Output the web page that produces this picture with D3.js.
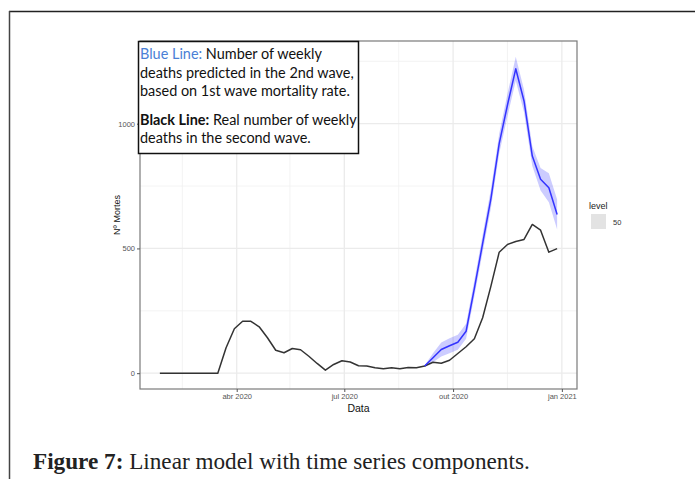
<!DOCTYPE html>
<html><head><meta charset="utf-8">
<script src="https://cdn.jsdelivr.net/npm/d3@7"></script>
<style>body{margin:0;background:#fff}svg{display:block}</style>
</head><body>
<script>
const dates = ["2020-01-27","2020-02-03","2020-02-10","2020-02-17","2020-02-24","2020-03-02","2020-03-09","2020-03-16","2020-03-23","2020-03-30","2020-04-06","2020-04-13","2020-04-20","2020-04-27","2020-05-04","2020-05-11","2020-05-18","2020-05-25","2020-06-01","2020-06-08","2020-06-15","2020-06-22","2020-06-29","2020-07-06","2020-07-13","2020-07-20","2020-07-27","2020-08-03","2020-08-10","2020-08-17","2020-08-24","2020-08-31","2020-09-07","2020-09-14","2020-09-21","2020-09-28","2020-10-05","2020-10-12","2020-10-19","2020-10-26","2020-11-02","2020-11-09","2020-11-16","2020-11-23","2020-11-30","2020-12-07","2020-12-14","2020-12-21","2020-12-28"];
const realDeaths = [0,0,0,0,0,0,0,0,102,178,208,208,186,142,92,82,99,94,68,39,12,35,50,45,30,29,22,18,22,18,23,22,29,44,40,52,79,106,138,222,349,485,516,528,536,596,573,485,499];
const predDates = ["2020-09-07","2020-09-14","2020-09-21","2020-09-28","2020-10-05","2020-10-12","2020-10-19","2020-10-26","2020-11-02","2020-11-09","2020-11-16","2020-11-23","2020-11-30","2020-12-07","2020-12-14","2020-12-21","2020-12-28"];
const predicted = [29,62,95,110,124,168,340,520,700,920,1075,1220,1091,870,777,743,636];
const predLower = [26,44,67,80,94,138,308,485,662,880,1030,1172,1046,830,732,685,576];
const predUpper = [32,80,123,140,154,198,372,555,738,960,1120,1268,1136,910,822,801,696];
const yTicks = [0,500,1000];
const yMinor = [250,750,1250];
const xTicks = ["2020-04-01","2020-07-01","2020-10-01","2021-01-01"];
const xTickLabels = ["abr 2020","jul 2020","out 2020","jan 2021"];
const xMinor = ["2020-02-15","2020-05-16","2020-08-16","2020-11-16"];
const legendLevels = ["50"];

const W=695,H=479;
const P={l:140,r:577,t:41,b:389};
const parse=d3.utcParse("%Y-%m-%d");
const svg=d3.select("body").append("svg").attr("width",W).attr("height",H);

// outer frame
svg.append("line").attr("x1",9).attr("x2",W).attr("y1",11.5).attr("y2",11.5).attr("stroke","#222").attr("stroke-width",1.5);
svg.append("line").attr("x1",9.5).attr("x2",9.5).attr("y1",11).attr("y2",H).attr("stroke","#444").attr("stroke-width",1.5);

const dExt=d3.extent(dates.map(parse));
const span=dExt[1]-dExt[0];
const x=d3.scaleUtc().domain([new Date(+dExt[0]-0.05*span),new Date(+dExt[1]+0.05*span)]).range([P.l,P.r]);
const ymax=d3.max(predUpper), ymin=0;
const yr=ymax-ymin;
const y=d3.scaleLinear().domain([ymin-0.05*yr,ymax+0.05*yr]).range([P.b,P.t]);

const g=svg.append("g");
// minor grid
g.selectAll(".ym").data(yMinor).join("line").attr("x1",P.l).attr("x2",P.r).attr("y1",d=>y(d)).attr("y2",d=>y(d)).attr("stroke","#f0f0f0").attr("stroke-width",0.8);
g.selectAll(".xm").data(xMinor).join("line").attr("y1",P.t).attr("y2",P.b).attr("x1",d=>x(parse(d))).attr("x2",d=>x(parse(d))).attr("stroke","#f0f0f0").attr("stroke-width",0.8);
// major grid
g.selectAll(".yM").data(yTicks).join("line").attr("x1",P.l).attr("x2",P.r).attr("y1",d=>y(d)).attr("y2",d=>y(d)).attr("stroke","#ebebeb").attr("stroke-width",1.3);
g.selectAll(".xM").data(xTicks).join("line").attr("y1",P.t).attr("y2",P.b).attr("x1",d=>x(parse(d))).attr("x2",d=>x(parse(d))).attr("stroke","#ebebeb").attr("stroke-width",1.3);

// ribbon
const band=predDates.map((d,i)=>({d:parse(d),lo:predLower[i],hi:predUpper[i],v:predicted[i]}));
g.append("path").datum(band).attr("d",d3.area().x(d=>x(d.d)).y0(d=>y(d.lo)).y1(d=>y(d.hi))).attr("fill","#0000ff").attr("fill-opacity",0.2);

// real line
const real=dates.map((d,i)=>({d:parse(d),v:realDeaths[i]}));
g.append("path").datum(real).attr("d",d3.line().x(d=>x(d.d)).y(d=>y(d.v))).attr("fill","none").attr("stroke","#333").attr("stroke-width",1.5).attr("stroke-linejoin","round");
// predicted line
g.append("path").datum(band).attr("d",d3.line().x(d=>x(d.d)).y(d=>y(d.v))).attr("fill","none").attr("stroke","#3333ff").attr("stroke-width",1.5).attr("stroke-linejoin","round");

// panel border
svg.append("rect").attr("x",P.l).attr("y",P.t).attr("width",P.r-P.l).attr("height",P.b-P.t).attr("fill","none").attr("stroke","#7a7a7a").attr("stroke-width",1.2);

// axes
const yAxis=d3.axisLeft(y).tickValues(yTicks).tickSize(3).tickPadding(2).tickFormat(d3.format("d"));
const ya=svg.append("g").attr("transform",`translate(${P.l},0)`).call(yAxis);
const xAxis=d3.axisBottom(x).tickValues(xTicks.map(parse)).tickSize(3).tickPadding(2).tickFormat((d,i)=>xTickLabels[i]);
const xa=svg.append("g").attr("transform",`translate(0,${P.b})`).call(xAxis);
[ya,xa].forEach(a=>{a.select(".domain").remove();a.selectAll(".tick line").attr("stroke","#555");a.selectAll("text").attr("fill","#555").style("font-family","Liberation Sans, Arial, sans-serif").style("font-size","7.5px");});

svg.append("text").attr("x",(P.l+P.r)/2).attr("y",412).attr("text-anchor","middle").style("font-family","Liberation Sans, Arial, sans-serif").style("font-size","10.5px").attr("fill","#111").text("Data");
svg.append("text").attr("transform",`translate(120,${(P.t+P.b)/2}) rotate(-90)`).attr("text-anchor","middle").style("font-family","Liberation Sans, Arial, sans-serif").style("font-size","9px").attr("fill","#111").text("Nº Mortes");

// legend
svg.append("text").attr("x",589).attr("y",209).style("font-family","Liberation Sans, Arial, sans-serif").style("font-size","9px").attr("fill","#222").text("level");
legendLevels.forEach((lv,i)=>{
  svg.append("rect").attr("x",591).attr("y",214+i*16).attr("width",15).attr("height",15).attr("fill","#e3e3e3");
  svg.append("text").attr("x",613).attr("y",225+i*16).style("font-family","Liberation Sans, Arial, sans-serif").style("font-size","7.5px").attr("fill","#333").text(lv);
});

// annotation box
svg.append("rect").attr("x",138.5).attr("y",41.5).attr("width",220).attr("height",112).attr("fill","#fff").attr("stroke","#111").attr("stroke-width",1.5);
const ff="Lato, 'Open Sans', sans-serif";
const lines=[
  [{t:"Blue Line:",c:"#4a7fd6"},{t:" Number of weekly",c:"#111"}],
  [{t:"deaths predicted in the 2nd wave,",c:"#111"}],
  [{t:"based on 1st wave mortality rate.",c:"#111"}],
  [{t:"Black Line:",c:"#111",b:true},{t:" Real number of weekly",c:"#111"}],
  [{t:"deaths in the second wave.",c:"#111"}]
];
const baselines=[59,77.5,96,125,143];
const ann=svg.append("g");
lines.forEach((ln,i)=>{
  const t=ann.append("text").attr("x",140).attr("y",baselines[i]).style("font-family",ff).style("font-size","13px");
  ln.forEach(s=>t.append("tspan").attr("fill",s.c).style("font-weight",s.b?"bold":"normal").text(s.t));
});
const ref=ann.selectAll("text").nodes()[1].getComputedTextLength();
const fs=13*214/ref;
ann.selectAll("text").style("font-size",fs+"px");

// caption
const cap=svg.append("text").attr("x",33).attr("y",469).style("font-family","'Liberation Serif', 'DejaVu Serif', serif").style("font-size","21px").attr("fill","#222");
cap.append("tspan").style("font-weight","bold").text("Figure 7:");
cap.append("tspan").text(" Linear model with time series components.");
const cw=cap.node().getComputedTextLength();
cap.style("font-size",(21*497/cw)+"px");
</script>
</body></html>
